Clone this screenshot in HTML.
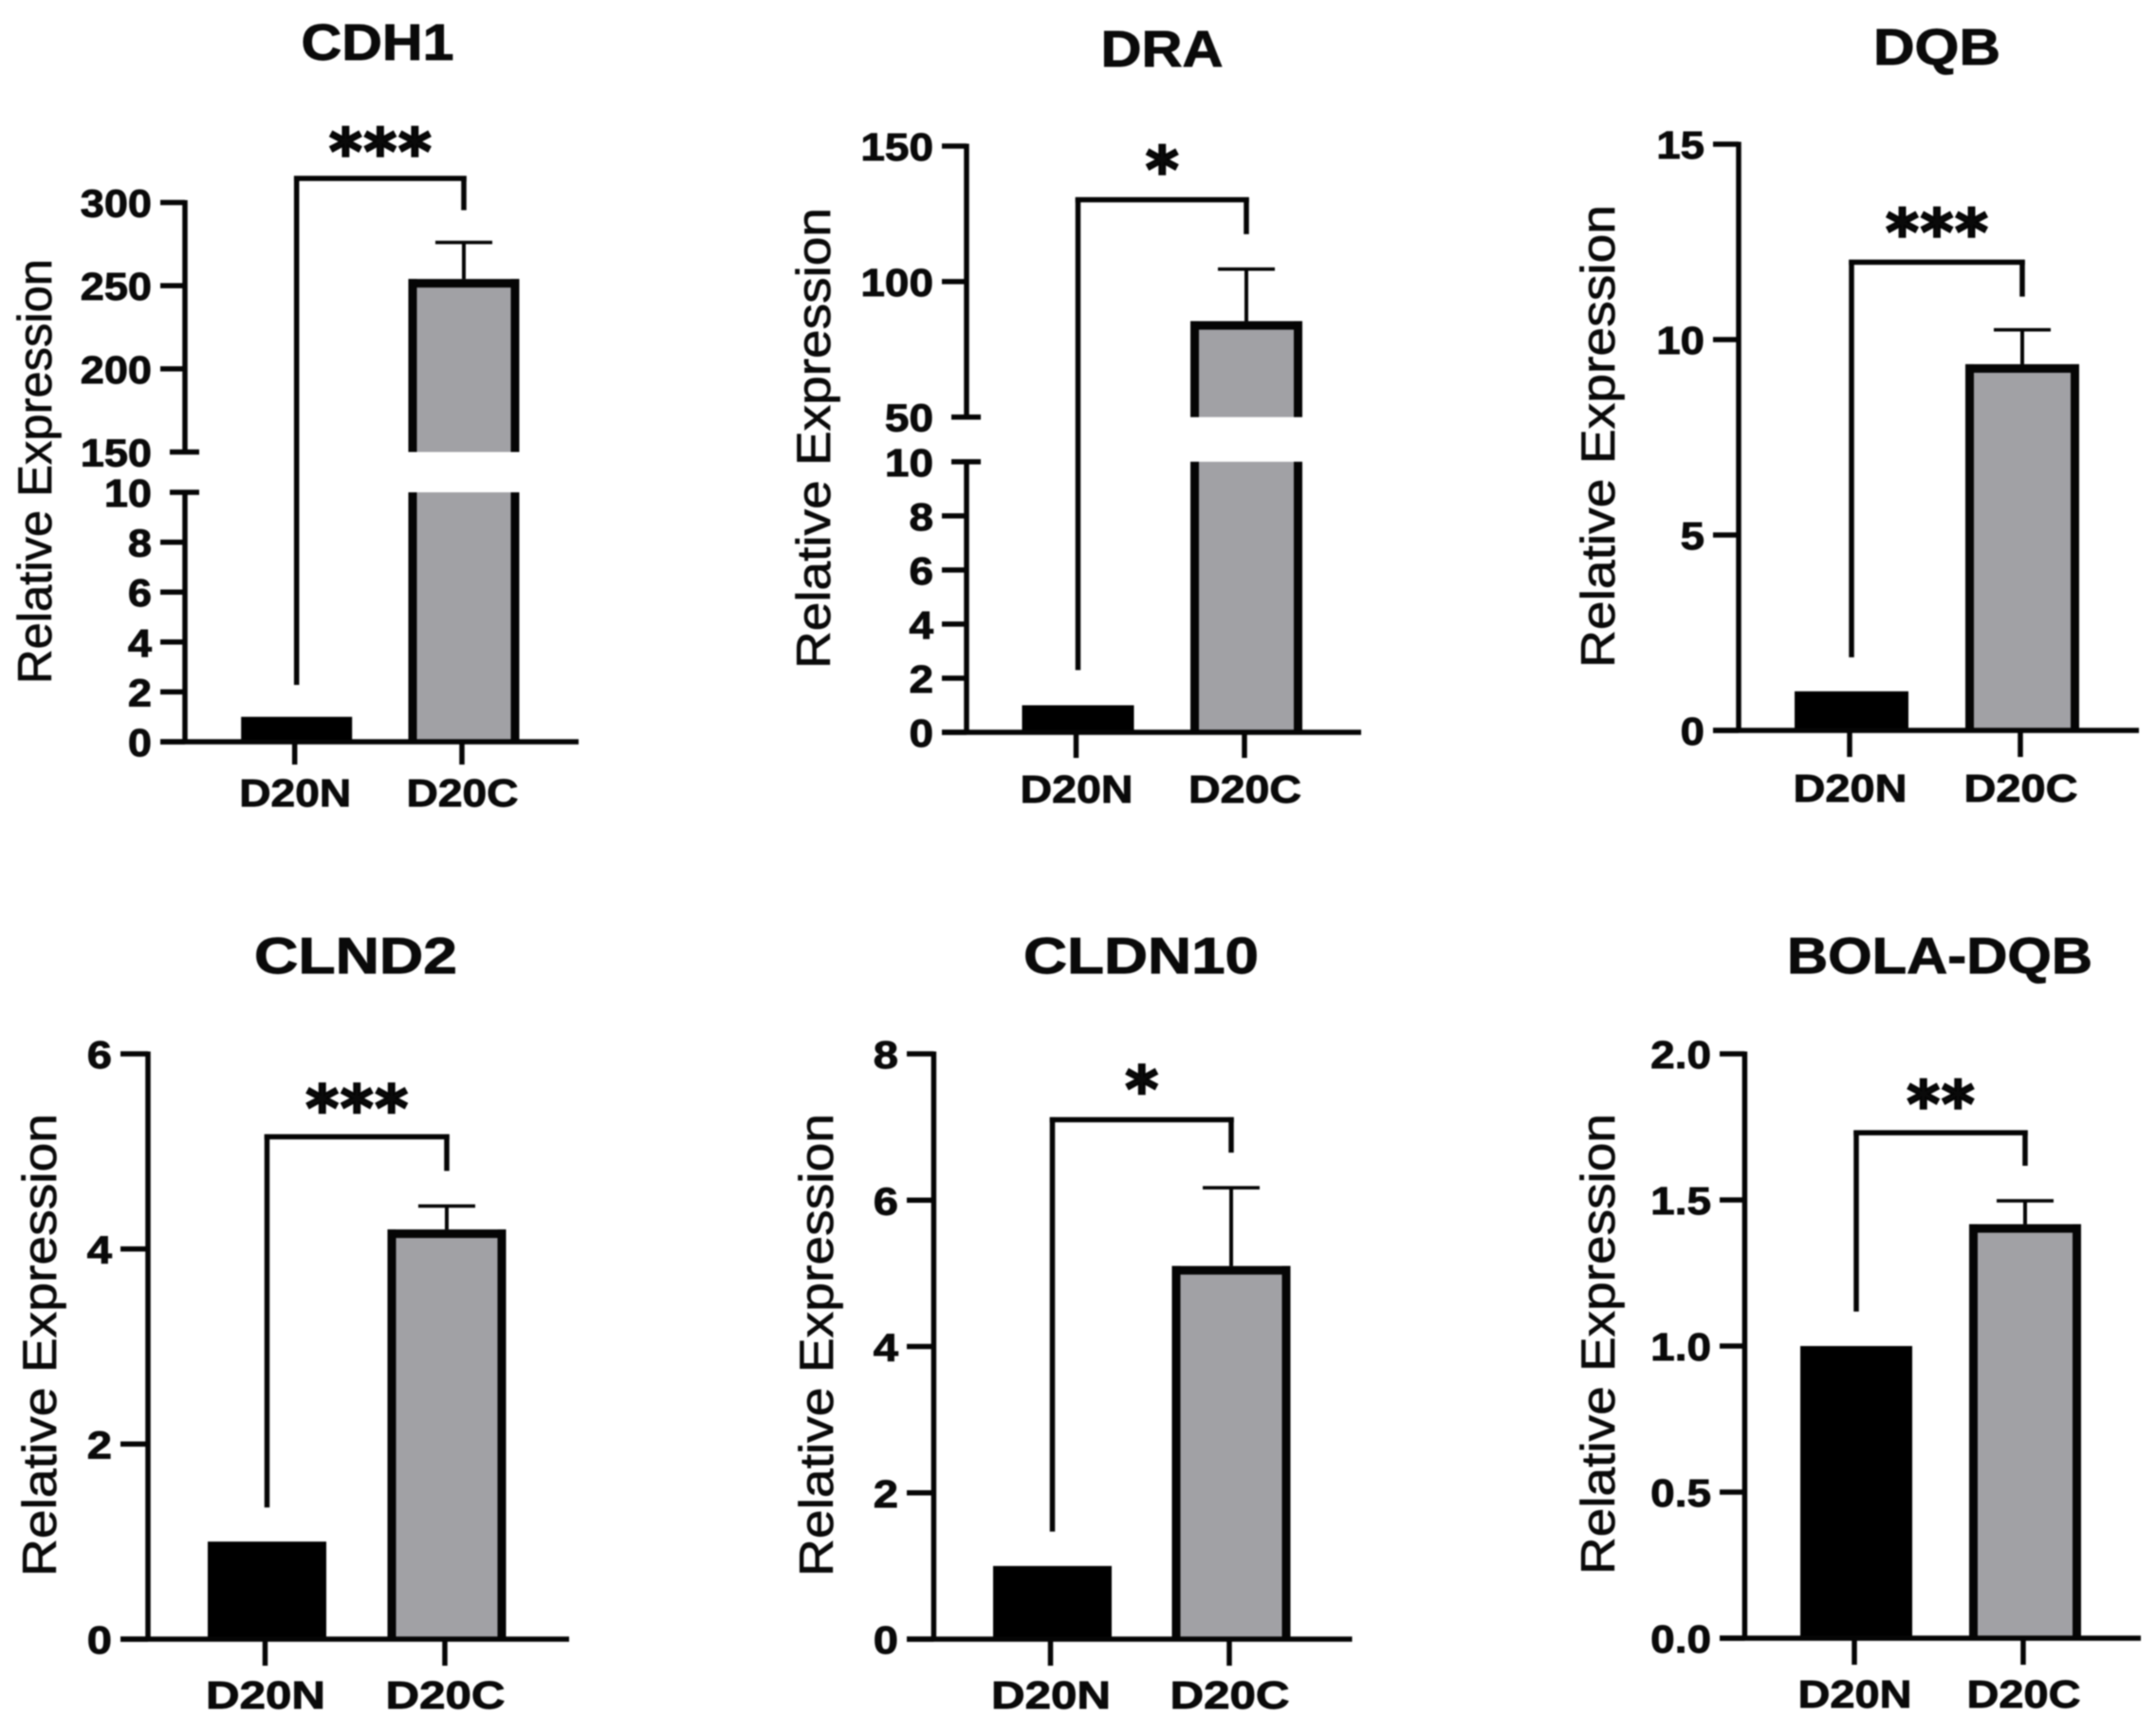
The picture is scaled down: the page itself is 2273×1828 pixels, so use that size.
<!DOCTYPE html>
<html lang="en">
<head>
<meta charset="utf-8">
<title>Relative expression of six genes, D20N vs D20C</title>
<style>
html,body{margin:0;padding:0;background:#fff;width:2273px;height:1828px;overflow:hidden}
#figure{display:block;filter:blur(0.8px)}
text{font-family:"Liberation Sans",Arial,sans-serif;fill:#0a0a0a}
text.heavy{stroke:#0a0a0a;stroke-width:0.9px}
text.medium{stroke:#0a0a0a;stroke-width:0.7px}
text.star{font-family:"DejaVu Sans","Liberation Sans",sans-serif;letter-spacing:2px;stroke:#050505;stroke-width:2.4px}
</style>
</head>
<body>
<svg id="figure" xmlns="http://www.w3.org/2000/svg" width="2273" height="1828" viewBox="0 0 2273 1828"></svg>
<script>
// ---------- chart data ----------
const genes = ['CDH1', 'DRA', 'DQB', 'CLND2', 'CLDN10', 'BOLA-DQB'];
const categories = ['D20N', 'D20C'];
const meanD20N = [1, 1, 1, 1, 1, 1];
const meanD20C = [254, 85.4, 9.37, 4.2, 5.1, 1.417];
const sdD20C = [22, 19.2, 0.88, 0.24, 1.07, 0.08];
const significance = ['***', '*', '***', '***', '*', '**'];
const bracketTop = [314.5, 130.2, 11.98, 5.15, 7.1, 1.73];
const bracketLeftEnd = [2.28, 2.3, 1.87, 1.35, 1.47, 1.118];
const bracketRightEnd = [295.4, 117.5, 11.1, 4.8, 6.65, 1.617];
const yAxisTitle = 'Relative Expression';
const tickLabelsCDH1 = ['0', '2', '4', '6', '8', '10', '150', '200', '250', '300'];
const tickLabelsDRA = ['0', '2', '4', '6', '8', '10', '50', '100', '150'];
const tickLabelsDQB = ['0', '5', '10', '15'];
const tickLabelsCLND2 = ['0', '2', '4', '6'];
const tickLabelsCLDN10 = ['0', '2', '4', '6', '8'];
const tickLabelsBOLA = ['0.0', '0.5', '1.0', '1.5', '2.0'];
const tickLabels = [tickLabelsCDH1, tickLabelsDRA, tickLabelsDQB, tickLabelsCLND2, tickLabelsCLDN10, tickLabelsBOLA];
const domainLower = [[0, 10], [0, 10], [0, 15], [0, 6], [0, 8], [0, 2]];
const domainUpper = [[150, 300], [50, 150], null, null, null, null];

// ---------- panel geometry (pixels, no data) ----------
const layouts = [
  {axisX:195, tickLeft:169, axisRight:610, c0:312.7, c1:489, barW:117, rangeLower:[782,519], rangeUpper:[476.5,213.5], breakL:179, breakR:210,
   tickEnd:806, xLabelY:850, xLabelW:118, tickSx:1.1, titleX:398, titleY:63, titleW:161, yTitleX:54, yTitleC:497, yTitleL:448, starDy:-38},
  {axisX:1019, tickLeft:993, axisRight:1435, c0:1136.5, c1:1314, barW:118, rangeLower:[772,486.8], rangeUpper:[439.7,154], breakL:1003, breakR:1034,
   tickEnd:799, xLabelY:846, xLabelW:119, tickSx:1.12, titleX:1225, titleY:70, titleW:129, yTitleX:875, yTitleC:462, yTitleL:486, starDy:-41.7},
  {axisX:1833, tickLeft:1806, axisRight:2255, c0:1952, c1:2132, barW:120, rangeLower:[770,152], rangeUpper:null,
   tickEnd:798, xLabelY:845, xLabelW:120, tickSx:1.11, titleX:2042, titleY:68, titleW:134, yTitleX:1702, yTitleC:460, yTitleL:488, starDy:-41.5},
  {axisX:156, tickLeft:127, axisRight:600, c0:281.5, c1:471, barW:125, rangeLower:[1728,1111], rangeUpper:null,
   tickEnd:1756, xLabelY:1801, xLabelW:126, tickSx:1.15, titleX:375, titleY:1026, titleW:214, yTitleX:59, yTitleC:1418, yTitleL:488, starDy:-40},
  {axisX:984.4, tickLeft:956, axisRight:1425.5, c0:1109.5, c1:1298, barW:125, rangeLower:[1728,1111], rangeUpper:null,
   tickEnd:1756, xLabelY:1801, xLabelW:126, tickSx:1.15, titleX:1203, titleY:1026, titleW:248, yTitleX:878, yTitleC:1418, yTitleL:488, starDy:-42},
  {axisX:1839.4, tickLeft:1813, axisRight:2257, c0:1957, c1:2135, barW:118, rangeLower:[1727,1111], rangeUpper:null,
   tickEnd:1755, xLabelY:1800, xLabelW:120, tickSx:1.12, titleX:2045, titleY:1026, titleW:322, yTitleX:1702, yTitleC:1417, yTitleL:486, starDy:-40}
];

const NS = 'http://www.w3.org/2000/svg';
const svg = document.getElementById('figure');
const INK = '#050505';
const GREY = '#a1a1a5';
const BORDER = 9;

function lin(dom, rng, v) {
  return rng[0] + (v - dom[0]) * (rng[1] - rng[0]) / (dom[1] - dom[0]);
}
function makeYScale(i) {
  const lo = domainLower[i], hi = domainUpper[i], L = layouts[i];
  return function (v) {
    if (!hi || v <= lo[1]) return lin(lo, L.rangeLower, v);
    if (v >= hi[0]) return lin(hi, L.rangeUpper, v);
    return lin([lo[1], hi[0]], [L.rangeLower[1], L.rangeUpper[0]], v);
  };
}
function makeXScale(i) {
  const L = layouts[i];
  return function (k) { return L.c0 + k * (L.c1 - L.c0); };
}
function box(parent, x, y, w, h, fill) {
  const r = document.createElementNS(NS, 'rect');
  r.setAttribute('x', x);
  r.setAttribute('y', y);
  r.setAttribute('width', Math.max(0, w));
  r.setAttribute('height', Math.max(0, h));
  r.setAttribute('fill', fill);
  parent.appendChild(r);
  return r;
}
function hLine(parent, x1, x2, y, t) { return box(parent, x1, y - t / 2, x2 - x1, t, INK); }
function vLine(parent, x, y1, y2, t) { return box(parent, x - t / 2, Math.min(y1, y2), t, Math.abs(y2 - y1), INK); }
function group(parent) {
  const g = document.createElementNS(NS, 'g');
  parent.appendChild(g);
  return g;
}
function label(parent, str, size, weight, anchor, transform, fitWidth, cls) {
  const t = document.createElementNS(NS, 'text');
  t.textContent = str;
  t.setAttribute('font-size', size);
  t.setAttribute('font-weight', weight);
  t.setAttribute('text-anchor', anchor);
  t.setAttribute('transform', transform);
  if (cls) t.setAttribute('class', cls);
  if (fitWidth) {
    t.setAttribute('textLength', fitWidth);
    t.setAttribute('lengthAdjust', 'spacingAndGlyphs');
  }
  parent.appendChild(t);
  return t;
}

genes.forEach(function (gene, i) {
  const L = layouts[i];
  const y = makeYScale(i);
  const x = makeXScale(i);
  const hi = domainUpper[i];
  const baseY = L.rangeLower[0];

  const panel = group(svg);
  
  

  const title = label(panel, gene, 54, 'bold', 'middle', 'translate(' + L.titleX + ',' + L.titleY + ')', L.titleW, 'heavy');
  
  

  const yTitle = label(panel, yAxisTitle, 50, 'normal', 'middle', 'translate(' + L.yTitleX + ',' + L.yTitleC + ') rotate(-90)', L.yTitleL, 'medium');
  
  

  // bars
  [meanD20N[i], meanD20C[i]].forEach(function (val, k) {
    const cx = x(k), left = cx - L.barW / 2, right = cx + L.barW / 2, top = y(val);
    const bar = group(panel);
    
    
    const broken = hi && val > hi[0];
    const spans = broken ? [[L.rangeLower[1], baseY], [top, L.rangeUpper[0]]] : [[top, baseY]];
    spans.forEach(function (s) {
      if (k === 0) {
        box(bar, left, s[0], L.barW, s[1] - s[0], '#000');
      } else {
        box(bar, left, s[0], L.barW, s[1] - s[0], GREY);
        box(bar, left, s[0], BORDER, s[1] - s[0], INK);
        box(bar, right - BORDER, s[0], BORDER, s[1] - s[0], INK);
      }
    });
    if (k === 1) box(bar, left, top, L.barW, BORDER, INK);
  });

  // error bar
  const errTop = y(meanD20C[i] + sdD20C[i]);
  const err = group(panel);
  
  
  vLine(err, x(1), errTop, y(meanD20C[i]), 4);
  hLine(err, x(1) - 30, x(1) + 30, errTop, 3.6);

  // y axis
  const yAxis = group(panel);
  
  
  if (hi) {
    vLine(yAxis, L.axisX, baseY, L.rangeLower[1], 5.5);
    vLine(yAxis, L.axisX, L.rangeUpper[0], L.rangeUpper[1] - 2.5, 5.5);
  } else {
    vLine(yAxis, L.axisX, baseY, L.rangeLower[1] - 2.5, 5.5);
  }
  tickLabels[i].forEach(function (lab) {
    const v = parseFloat(lab), ty = y(v);
    const isBreak = hi && (v === domainLower[i][1] || v === hi[0]);
    const tick = isBreak ? hLine(yAxis, L.breakL, L.breakR, ty, 5.5) : hLine(yAxis, L.tickLeft, L.axisX, ty, 5.5);
    
    
    const tl = label(yAxis, lab, 41, 'bold', 'end', 'translate(' + (L.tickLeft - 9) + ',' + (ty + 15) + ') scale(' + L.tickSx + ',1)', null, 'heavy');
    
    
  });

  // x axis
  const xAxis = group(panel);
  
  
  hLine(xAxis, L.tickLeft, L.axisRight, baseY, 5.5);
  categories.forEach(function (cat, k) {
    const tick = vLine(xAxis, x(k) - 2, baseY, L.tickEnd, 5.5);
    
    
    const xl = label(xAxis, cat, 41, 'bold', 'middle', 'translate(' + (x(k) - 1.5) + ',' + L.xLabelY + ')', L.xLabelW, 'heavy');
    
    
  });

  // significance bracket
  const yb = y(bracketTop[i]);
  const bracket = group(panel);
  
  
  vLine(bracket, x(0), yb - 2.5, y(bracketLeftEnd[i]), 5.5);
  vLine(bracket, x(1), yb - 2.5, y(bracketRightEnd[i]), 5.5);
  hLine(bracket, x(0) - 2.75, x(1) + 2.75, yb, 5.5);
  const star = label(panel, significance[i], 66, 'bold', 'middle', 'translate(' + ((x(0) + x(1)) / 2 + 1) + ',' + (yb + L.starDy + 33) + ')', null, 'star');
  
  
});
</script>
</body>
</html>
